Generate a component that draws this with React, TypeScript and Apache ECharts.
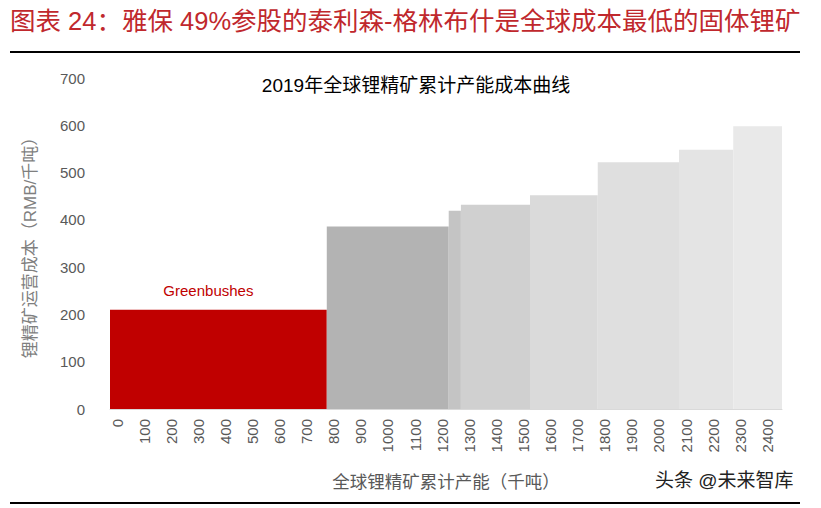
import React, { useEffect, useRef } from 'react';
import * as echarts from 'echarts';

// Data
const producerNames = ['Greenbushes', '', '', '', '', '', '', ''];
const capacityStart = [0, 800, 1250, 1295, 1550, 1800, 2100, 2300];
const capacityEnd = [800, 1250, 1295, 1550, 1800, 2100, 2300, 2480];
const unitCost = [210, 386, 419, 432, 452, 522, 548, 598];

// Styles
const barColors = ['#c00000', '#b3b3b3', '#c4c4c4', '#d0d0d0', '#dadada', '#dfdfdf', '#e4e4e4', '#e9e9e9'];
const FONT = '"Liberation Sans", Arial, "Noto Sans CJK SC", sans-serif';

export default function App() {
  const ref = useRef<HTMLDivElement>(null);
  useEffect(() => {
    if (!ref.current) return;
    const chart = echarts.init(ref.current, null, { renderer: 'svg' });
    const data = capacityStart.map((s, i) => [s, capacityEnd[i], unitCost[i], i]);
    chart.setOption({
      animation: false,
      textStyle: { fontFamily: FONT },
      title: {
        text: '2019年全球锂精矿累计产能成本曲线',
        left: 411,
        top: 71,
        textAlign: 'center',
        textStyle: { fontFamily: FONT, fontSize: 19, fontWeight: 'normal', color: '#000' },
      },
      grid: { left: 110, top: 78, width: 672, height: 331, containLabel: false },
      xAxis: {
        type: 'value',
        min: 0,
        max: 2480,
        interval: 100,
        name: '全球锂精矿累计产能（千吨）',
        nameLocation: 'middle',
        nameGap: 64,
        nameTextStyle: { fontFamily: FONT, fontSize: 17.5, color: '#595959' },
        axisLine: { show: true, lineStyle: { color: '#d9d9d9', width: 1 } },
        axisTick: { show: false },
        splitLine: { show: false },
        axisLabel: {
          rotate: 90,
          margin: 10,
          color: '#595959',
          fontSize: 15,
          fontFamily: FONT,
          verticalAlign: 'top',
          lineHeight: 14,
          showMaxLabel: false,
          formatter: (v: number) => (v % 100 === 0 ? String(v) : ''),
        },
      },
      yAxis: {
        type: 'value',
        min: 0,
        max: 700,
        interval: 100,
        name: '锂精矿运营成本（RMB/千吨）',
        nameLocation: 'middle',
        nameGap: 71,
        nameTextStyle: { fontFamily: FONT, fontSize: 17, color: '#7f7f7f' },
        axisLine: { show: false },
        axisTick: { show: false },
        splitLine: { show: false },
        axisLabel: { margin: 25, color: '#595959', fontSize: 15, fontFamily: FONT },
      },
      series: [
        {
          type: 'custom',
          encode: { x: [0, 1], y: 2 },
          data,
          renderItem: (params: any, api: any) => {
            const idx = api.value(3);
            const tl = api.coord([api.value(0), api.value(2)]);
            const br = api.coord([api.value(1), 0]);
            const children: any[] = [
              {
                type: 'rect',
                shape: { x: tl[0], y: tl[1], width: br[0] - tl[0], height: br[1] - tl[1] },
                style: { fill: barColors[idx] },
              },
            ];
            const name = producerNames[idx];
            if (name) {
              const mid = api.coord([(api.value(0) + api.value(1)) / 2, api.value(2)]);
              children.push({
                type: 'text',
                x: mid[0] - 10,
                y: mid[1] - 12,
                style: {
                  text: name,
                  fill: '#c00000',
                  font: `15px ${FONT}`,
                  align: 'center',
                  verticalAlign: 'bottom',
                },
              });
            }
            return { type: 'group', children };
          },
        },
      ],
      graphic: [
        {
          type: 'text',
          left: 10,
          top: 8,
          style: {
            text: '图表 24：雅保 49%参股的泰利森-格林布什是全球成本最低的固体锂矿',
            fill: '#c0282d',
            font: `25.5px ${FONT}`,
          },
        },
        {
          type: 'line',
          shape: { x1: 10, y1: 52, x2: 800, y2: 52 },
          style: { stroke: '#000', lineWidth: 2 },
        },
        {
          type: 'text',
          left: 655,
          top: 471,
          style: { text: '头条 @未来智库', fill: '#222', font: `19px ${FONT}` },
        },
        {
          type: 'line',
          shape: { x1: 10, y1: 503, x2: 800, y2: 503 },
          style: { stroke: '#000', lineWidth: 2 },
        },
      ],
    });
    return () => chart.dispose();
  }, []);
  return <div ref={ref} style={{ position: 'fixed', left: 0, top: 0, width: 821, height: 508, background: '#fff' }} />;
}
